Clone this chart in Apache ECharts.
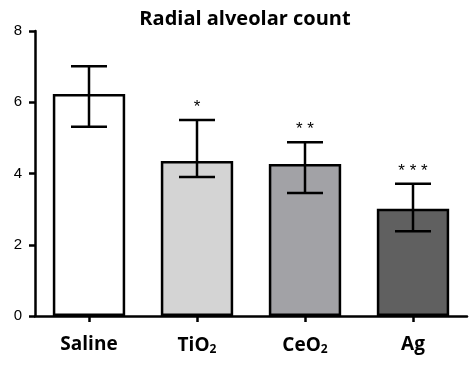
<!DOCTYPE html>
<html>
<head>
<meta charset="utf-8">
<script src="https://cdn.jsdelivr.net/npm/echarts@6/dist/echarts.min.js"></script>
<style>
  html, body { margin: 0; padding: 0; background: #fff; }
  #chart { width: 471px; height: 368px; }
</style>
</head>
<body>
<div id="chart"></div>
<script>
var categories = ['Saline', 'TiO2', 'CeO2', 'Ag'];
var means = [6.23, 4.35, 4.27, 3.01];
var errHigh = [7.01, 5.50, 4.88, 3.71];
var errLow = [5.31, 3.90, 3.45, 2.38];
var stars = ['', '*', '* *', '* * *'];
var barColors = ['#ffffff', '#d4d4d4', '#a2a2a6', '#606060'];

var myChart = echarts.init(document.getElementById('chart'));

var errData = categories.map(function (c, i) {
    return [i, errLow[i], errHigh[i], stars[i]];
});

option = {
    animation: false,
    title: {
        text: 'Radial alveolar count',
        left: 240,
        textAlign: 'center',
        top: 4,
        textStyle: {
            fontSize: 20,
            fontWeight: 700,
            fontFamily: 'Open Sans',
            color: '#000'
        }
    },
    grid: {
        left: 35,
        right: 4,
        top: 31,
        bottom: 52
    },
    xAxis: {
        type: 'category',
        data: categories,
        axisLine: { lineStyle: { color: '#000', width: 2.5 } },
        axisTick: { show: true, interval: 0, alignWithLabel: true, length: 6, lineStyle: { color: '#000', width: 2.5 } },
        axisLabel: {
            interval: 0,
            margin: 19,
            formatter: function (v) {
                if (/2$/.test(v)) {
                    return '{main|' + v.slice(0, -1) + '}{sub|2}';
                }
                return '{main|' + v + '}';
            },
            rich: {
                main: { fontSize: 19, fontWeight: 700, fontFamily: 'Open Sans', color: '#000' },
                sub: { fontSize: 12, fontWeight: 700, fontFamily: 'Open Sans', color: '#000', verticalAlign: 'bottom', padding: [9, 0, 0, 0] }
            }
        }
    },
    yAxis: {
        type: 'value',
        min: 0,
        max: 8,
        interval: 2,
        splitLine: { show: false },
        axisLine: { show: true, lineStyle: { color: '#000', width: 2.5 } },
        axisTick: { show: true, length: 6, lineStyle: { color: '#000', width: 2.5 } },
        axisLabel: { margin: 13, fontSize: 15, fontFamily: 'Liberation Sans', color: '#000' }
    },
    series: [{
        type: 'bar',
        barWidth: '67%',
        data: means.map(function (v, i) {
            return { value: v, itemStyle: { color: barColors[i] } };
        }),
        itemStyle: { borderColor: '#000', borderWidth: 2.5 }
    }, {
        type: 'custom',
        data: errData,
        z: 10,
        renderItem: function (params, api) {
            var x = api.value(0);
            var lo = api.coord([x, api.value(1)]);
            var hi = api.coord([x, api.value(2)]);
            var half = 18;
            var st = { stroke: '#000', lineWidth: 2.5 };
            return {
                type: 'group',
                children: [
                    { type: 'line', shape: { x1: hi[0], y1: hi[1], x2: lo[0], y2: lo[1] }, style: st },
                    { type: 'line', shape: { x1: hi[0] - half, y1: hi[1], x2: hi[0] + half, y2: hi[1] }, style: st },
                    { type: 'line', shape: { x1: lo[0] - half, y1: lo[1], x2: lo[0] + half, y2: lo[1] }, style: st },
                    {
                        type: 'text',
                        style: {
                            text: api.value(3),
                            x: hi[0],
                            y: hi[1] - 13,
                            align: 'center',
                            verticalAlign: 'middle',
                            fontSize: 17,
                            fontFamily: 'Liberation Sans',
                            fill: '#000'
                        }
                    }
                ]
            };
        }
    }]
};
myChart.setOption(option);
</script>
</body>
</html>
